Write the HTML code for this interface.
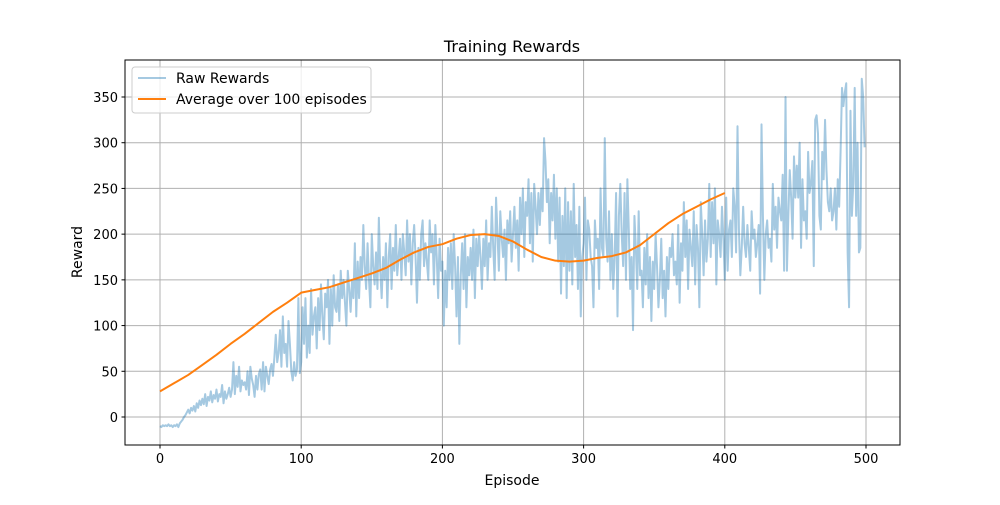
<!DOCTYPE html>
<html><head><meta charset="utf-8"><style>
body{margin:0;background:#fff;}
svg text{font-family:"DejaVu Sans","Liberation Sans",sans-serif;fill:#000;}
</style></head><body>
<svg id="chart" width="1000" height="500" xmlns="http://www.w3.org/2000/svg">
<rect x="0" y="0" width="1000" height="500" fill="#fff"/>
<g id="grid"></g>
<g id="series"></g>
<rect x="125" y="60" width="775" height="385" fill="none" stroke="#000" stroke-width="1"/>
<g id="ticks"></g>
<text x="512" y="52" font-size="16" text-anchor="middle">Training Rewards</text>
<text x="512" y="485" font-size="14" text-anchor="middle">Episode</text>
<text x="82" y="252" font-size="14" text-anchor="middle" transform="rotate(-90 82 252)">Reward</text>
<g>
<rect x="132" y="67" width="239" height="46" rx="3" fill="#fff" fill-opacity="0.8" stroke="#ccc"/>
<line x1="138" y1="78" x2="166" y2="78" stroke="#1f77b4" stroke-opacity="0.4" stroke-width="2"/>
<text x="176" y="83" font-size="14">Raw Rewards</text>
<line x1="138" y1="99" x2="166" y2="99" stroke="#ff7f0e" stroke-width="2"/>
<text x="176" y="104" font-size="14">Average over 100 episodes</text>
</g>
</svg>
<script>
const rawRewards=[-10,-11,-9,-10,-9,-10,-8,-10,-9,-11,
-9,-10,-8,-11,-7,-5,-3,0,2,5,
8,4,10,7,12,6,15,10,18,13,
20,14,25,12,22,18,28,16,24,20,
30,17,25,22,35,15,28,20,25,32,
22,30,60,25,45,33,55,28,40,35,
38,30,50,24,55,42,35,22,45,30,
47,52,30,60,28,55,45,36,52,58,
45,65,90,60,70,95,55,110,70,80,
55,105,80,50,40,60,45,52,130,48,
60,120,80,130,65,100,70,140,90,110,
120,75,130,95,145,110,85,135,120,150,
80,140,100,155,120,115,145,105,160,130,
150,125,100,160,140,115,150,130,190,110,
170,130,175,150,210,165,140,190,150,120,
200,165,145,180,140,218,160,130,175,150,
190,120,175,200,140,185,160,210,155,175,
195,150,200,180,155,215,170,200,145,190,
210,175,125,185,150,200,215,165,190,170,
150,215,180,200,145,210,175,130,195,160,
170,100,160,120,185,150,190,140,200,165,
110,175,80,155,190,140,200,120,175,155,
185,150,205,130,195,165,200,175,140,195,
165,215,150,190,175,230,185,150,240,200,
160,225,195,175,205,150,215,190,225,170,
200,230,185,215,160,240,200,250,175,235,
220,260,190,245,170,255,230,200,245,210,
250,225,305,280,235,260,190,245,215,265,
195,250,170,240,135,220,165,250,130,235,
160,225,145,255,175,210,140,230,110,175,
190,240,150,215,205,175,165,120,215,185,
195,140,250,185,175,305,195,170,225,150,
200,140,175,245,110,220,255,200,165,245,
150,260,205,140,175,95,220,185,140,225,
155,160,120,185,145,200,130,175,105,170,
140,200,165,120,150,195,130,160,110,175,
140,185,175,200,155,170,145,210,125,190,
160,235,175,215,140,205,185,165,225,145,
210,185,120,235,200,155,215,170,195,255,
175,235,190,250,145,215,200,175,230,195,
150,240,160,205,215,175,250,230,180,318,
205,155,185,230,190,175,210,185,160,225,
195,205,175,190,210,135,320,220,150,200,
215,185,195,170,255,205,230,185,240,225,
215,265,160,350,160,220,270,240,195,285,
240,275,240,300,185,260,215,225,195,290,
245,255,280,165,325,330,310,220,205,290,
260,325,270,235,225,250,215,225,250,205,
260,230,290,360,340,355,365,180,120,335,
220,255,360,220,300,180,185,370,350,295];
const avgEpisodes=[0,10,20,30,40,50,60,70,80,90,100,110,120,130,140,150,160,170,180,190,200,210,220,230,240,250,260,270,280,290,300,310,320,330,340,350,360,370,380,390,400];
const avgValues=[28,37,46,57,68,80,91,103,115,125,136,139,142,147,152,157,163,172,180,186,189,195,199,200,198,192,183,175,171,170,171,174,176,180,188,200,212,222,230,238,245];
const xTicks=[0,100,200,300,400,500];
const yTicks=[0,50,100,150,200,250,300,350];

const NS="http://www.w3.org/2000/svg";
const L=125,R=900,T=60,B=445;
function xs(v){return 160+v*(706/500);}
function ys(v){return 417-v*(320/350);}
const grid=document.getElementById('grid'),ticks=document.getElementById('ticks'),series=document.getElementById('series');
function mk(tag,attrs,parent){const e=document.createElementNS(NS,tag);for(const k in attrs)e.setAttribute(k,attrs[k]);parent.appendChild(e);return e;}
xTicks.forEach(t=>{
  const x=xs(t);
  const g=mk('line',{x1:x,x2:x,y1:T,y2:B,stroke:'#b0b0b0','stroke-width':1},grid);
  
  
  const tk=mk('line',{x1:x,x2:x,y1:B,y2:B+3.5,stroke:'#000'},ticks);
  
  
  const lb=mk('text',{x:x,y:B+18,'font-size':13,'text-anchor':'middle'},ticks);
  lb.textContent=t;
  
  
});
yTicks.forEach(t=>{
  const y=ys(t);
  const g=mk('line',{x1:L,x2:R,y1:y,y2:y,stroke:'#b0b0b0','stroke-width':1},grid);
  
  
  const tk=mk('line',{x1:L-3.5,x2:L,y1:y,y2:y,stroke:'#000'},ticks);
  
  
  const lb=mk('text',{x:L-7,y:y+5,'font-size':13,'text-anchor':'end'},ticks);
  lb.textContent=t;
  
  
});
const rawPts=rawRewards.map((v,i)=>xs(i).toFixed(2)+','+ys(v).toFixed(2)).join(' ');
const rawLine=mk('polyline',{points:rawPts,fill:'none',stroke:'#1f77b4','stroke-opacity':0.4,'stroke-width':2,'stroke-linejoin':'round'},series);


const avgPts=avgValues.map((v,i)=>xs(avgEpisodes[i]).toFixed(2)+','+ys(v).toFixed(2)).join(' ');
const avgLine=mk('polyline',{points:avgPts,fill:'none',stroke:'#ff7f0e','stroke-width':2,'stroke-linejoin':'round'},series);


</script>
</body></html>
